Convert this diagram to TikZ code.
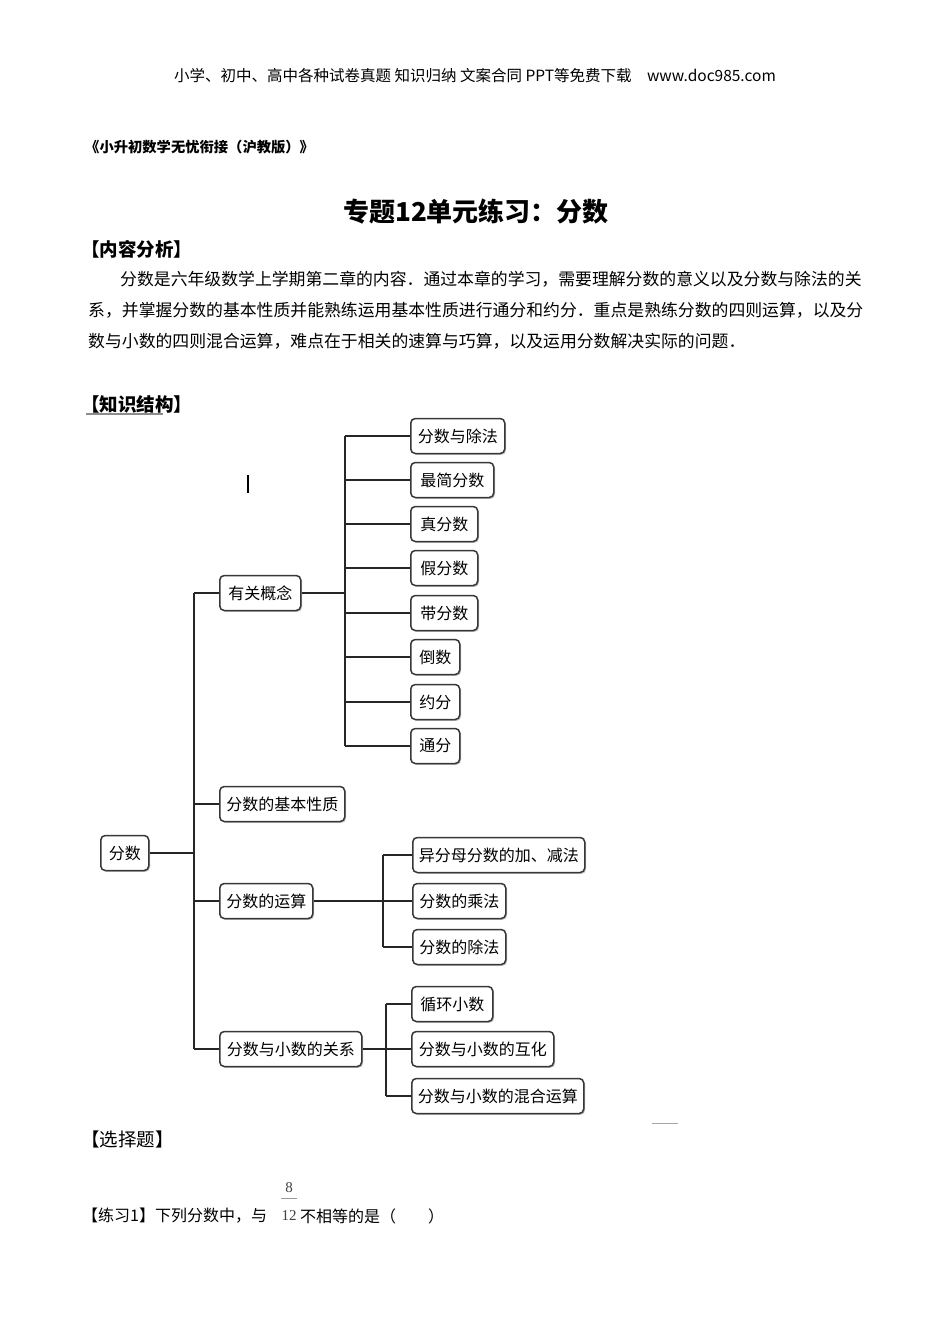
\documentclass[tikz,border=0pt]{standalone}
\usepackage{fontspec}
\setmainfont{Noto Sans CJK SC}
\newfontfamily\numfont{Liberation Serif}
\usetikzlibrary{shadows}
\tikzset{
  txt/.style={inner sep=0pt, anchor=west},
  box/.style={draw=black!78, line width=1.5pt, rounded corners=4.5pt, fill=white,
    minimum height=35pt, inner xsep=6pt, inner ysep=0pt, anchor=west,
    font=\fontsize{16}{19}\selectfont,
    drop shadow={shadow xshift=1.3pt, shadow yshift=-1.3pt, fill=black!30, opacity=0.8}},
  conn/.style={draw=black!85, line width=1.3pt},
}
\begin{document}
\begin{tikzpicture}[x=1pt,y=-1pt]
\useasboundingbox[fill=white] (0,0) rectangle (950,1344);
% header
\node[inner sep=0pt] (hdr) at (475,76) {\fontsize{15.5}{18}\selectfont 小学、初中、高中各种试卷真题 知识归纳 文案合同 PPT等免费下载\quad www.doc985.com};
\node[txt] (book) at (85,147) {\fontsize{14.3}{17}\selectfont\bfseries 《小升初数学无忧衔接（沪教版）》};
\node[inner sep=0pt] (title) at (476,212) {\fontsize{26}{30}\selectfont\bfseries 专题12单元练习：分数};
\node[txt] (h1) at (81,249) {\fontsize{18.5}{21}\selectfont\bfseries 【内容分析】};
\node[txt] (p1) at (120,279) {\fontsize{16.85}{20}\selectfont 分数是六年级数学上学期第二章的内容．通过本章的学习，需要理解分数的意义以及分数与除法的关};
\node[txt] (p2) at (88,310) {\fontsize{16.85}{20}\selectfont 系，并掌握分数的基本性质并能熟练运用基本性质进行通分和约分．重点是熟练分数的四则运算，以及分};
\node[txt] (p3) at (88,341) {\fontsize{16.85}{20}\selectfont 数与小数的四则混合运算，难点在于相关的速算与巧算，以及运用分数解决实际的问题．};
\node[txt] (h2) at (81,404) {\fontsize{18.5}{21}\selectfont\bfseries 【知识结构】};
\draw[black!45, line width=2.5pt] (86,414) -- (163,414);
\draw[black, line width=2.2pt] (248,475) -- (248,493);
% tree nodes
\node[box, minimum width=48pt] (root) at (100,853) {分数};
\node[box, minimum width=81pt] (c1) at (219,593) {有关概念};
\node[box, minimum width=125pt] (c2) at (219,804) {分数的基本性质};
\node[box, minimum width=93pt] (c3) at (219,901) {分数的运算};
\node[box, minimum width=142pt] (c4) at (219,1049) {分数与小数的关系};
\node[box, minimum width=94pt] (a1) at (410,436) {分数与除法};
\node[box, minimum width=83pt] (a2) at (410,480) {最简分数};
\node[box, minimum width=67pt] (a3) at (410,524) {真分数};
\node[box, minimum width=67pt] (a4) at (410,568) {假分数};
\node[box, minimum width=67pt] (a5) at (410,613) {带分数};
\node[box, minimum width=49pt] (a6) at (410,657) {倒数};
\node[box, minimum width=49pt] (a7) at (410,702) {约分};
\node[box, minimum width=49pt] (a8) at (410,746) {通分};
\node[box, minimum width=170pt] (b1) at (412,855) {异分母分数的加、减法};
\node[box, minimum width=93pt] (b2) at (412,901) {分数的乘法};
\node[box, minimum width=93pt] (b3) at (412,947) {分数的除法};
\node[box, minimum width=81pt] (d1) at (411,1004) {循环小数};
\node[box, minimum width=142pt] (d2) at (411,1049) {分数与小数的互化};
\node[box, minimum width=171pt] (d3) at (411,1096) {分数与小数的混合运算};
% junction columns
\coordinate (J0) at (194,0);
\coordinate (J1) at (345,0);
\coordinate (J2) at (383,0);
\coordinate (J3) at (386,0);
% connectors
\draw[conn] (root.east) -- (root.east -| J0);
\draw[conn] (J0 |- c1.west) -- (J0 |- c4.west);
\foreach \c in {c1,c2,c3,c4} \draw[conn] (J0 |- \c.west) -- (\c.west);
\draw[conn] (c1.east) -- (c1.east -| J1);
\draw[conn] (J1 |- a1.west) -- (J1 |- a8.west);
\foreach \c in {a1,a2,a3,a4,a5,a6,a7,a8} \draw[conn] (J1 |- \c.west) -- (\c.west);
\draw[conn] (c3.east) -- (c3.east -| J2);
\draw[conn] (J2 |- b1.west) -- (J2 |- b3.west);
\foreach \c in {b1,b2,b3} \draw[conn] (J2 |- \c.west) -- (\c.west);
\draw[conn] (c4.east) -- (c4.east -| J3);
\draw[conn] (J3 |- d1.west) -- (J3 |- d3.west);
\foreach \c in {d1,d2,d3} \draw[conn] (J3 |- \c.west) -- (\c.west);
% bottom
\draw[black!35, line width=1pt] (652,1123) -- (678,1123);
\node[txt] (h3) at (81,1139) {\fontsize{18.5}{21}\selectfont 【选择题】};
\node[txt] (q1a) at (82,1216) {\fontsize{16}{19}\selectfont 【练习1】下列分数中，与};
\node[inner sep=0pt, text=black!75] (num) at (289,1188) {\numfont\fontsize{15}{17}\selectfont 8};
\node[inner sep=0pt, text=black!75] (den) at (289,1216) {\numfont\fontsize{15}{17}\selectfont 12};
\draw[black!40, line width=0.9pt] (281,1198) -- (297,1198);
\node[txt] (q1b) at (300,1216) {\fontsize{16}{19}\selectfont 不相等的是（\hspace{2em}）};
\end{tikzpicture}
\end{document}
